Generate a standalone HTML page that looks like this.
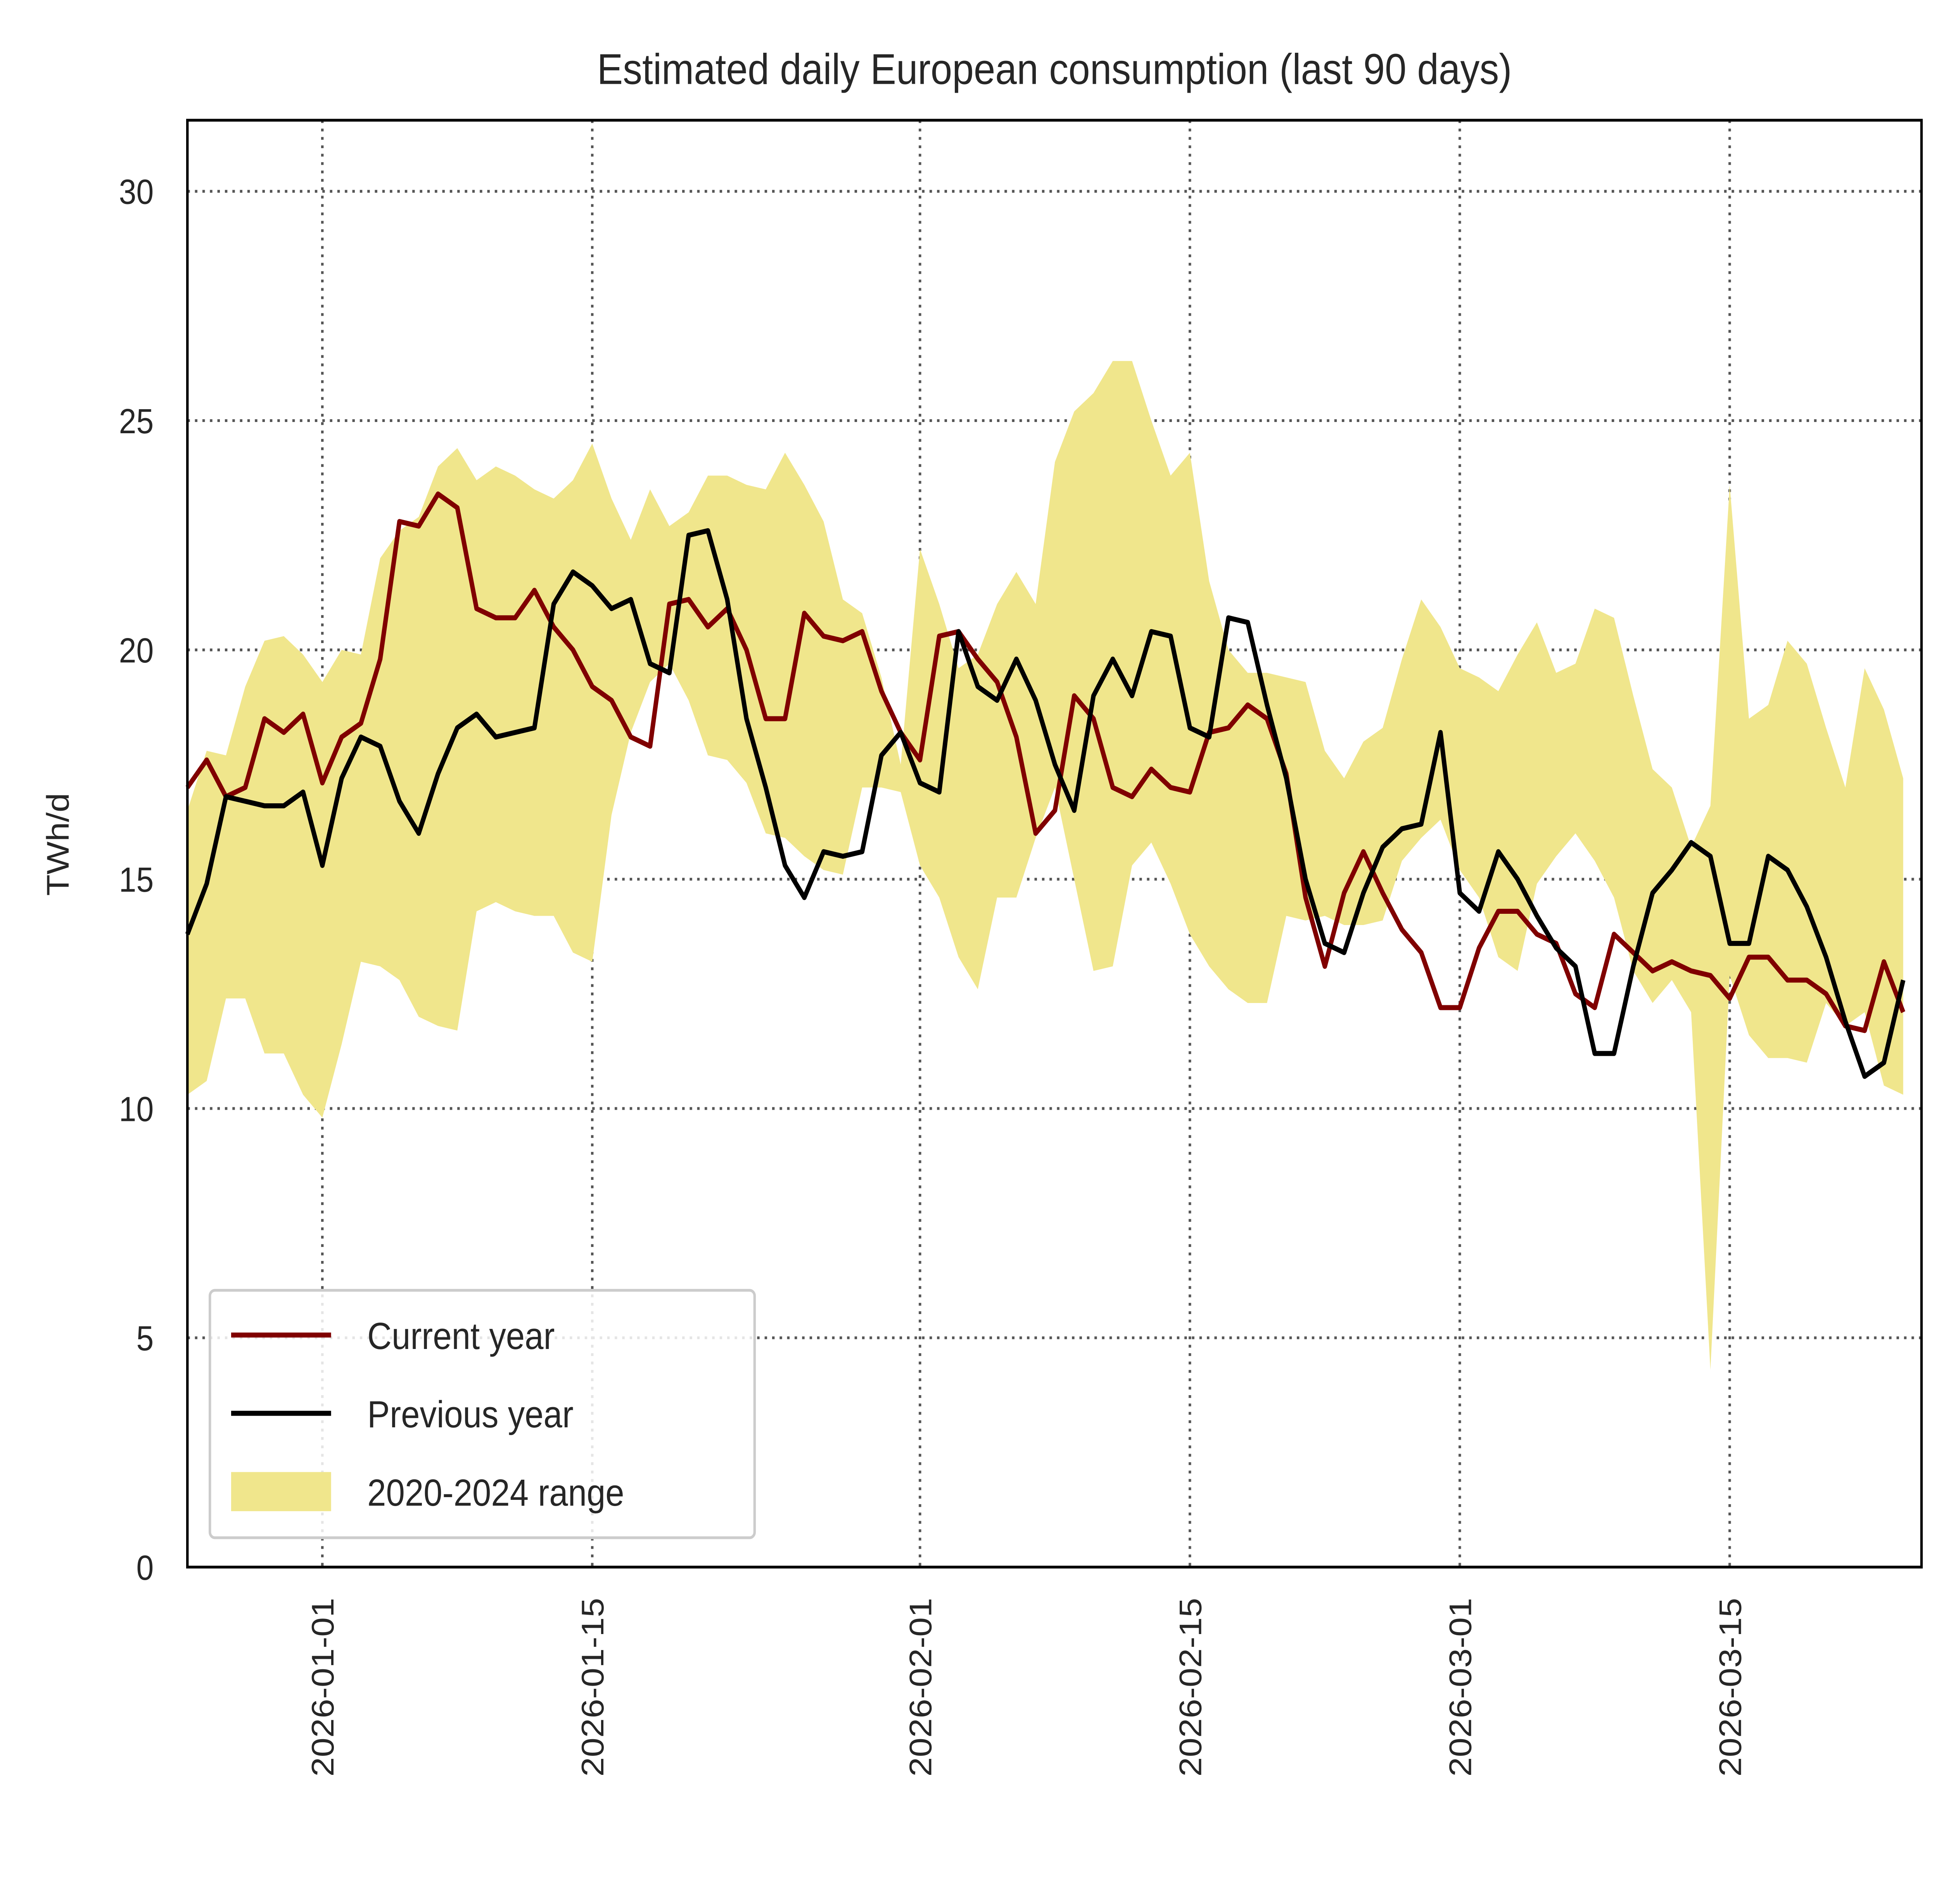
<!DOCTYPE html>
<html><head><meta charset="utf-8"><style>
html,body{margin:0;padding:0;background:#fff;width:100%;height:100%;overflow:hidden;}
svg{display:block;position:fixed;left:0;top:0;width:100vw;height:100vh;}
text{font-family:"Liberation Sans",Arial,sans-serif;fill:#262626;}
</style></head><body>
<svg id="chart" viewBox="0 0 1552 1362" preserveAspectRatio="none" xmlns="http://www.w3.org/2000/svg">
<rect width="1552" height="1362" fill="#fff"/>
<text x="844" y="60" font-size="31" text-anchor="middle">Estimated daily European consumption (last 90 days)</text>
<g id="grid"></g><g id="marks"></g><g id="axes"></g>
</svg>
<script>
const startDay = -7; // days relative to 2026-01-01
const currentYear = [17.0,17.6,16.8,17.0,18.5,18.2,18.6,17.1,18.1,18.4,19.8,22.8,22.7,23.4,23.1,20.9,20.7,20.7,21.3,20.5,20.0,19.2,18.9,18.1,17.9,21.0,21.1,20.5,20.9,20.0,18.5,18.5,20.8,20.3,20.2,20.4,19.1,18.2,17.6,20.3,20.4,19.8,19.3,18.1,16.0,16.5,19.0,18.5,17.0,16.8,17.4,17.0,16.9,18.2,18.3,18.8,18.5,17.3,14.6,13.1,14.7,15.6,14.7,13.9,13.4,12.2,12.2,13.5,14.3,14.3,13.8,13.6,12.5,12.2,13.8,13.4,13.0,13.2,13.0,12.9,12.4,13.3,13.3,12.8,12.8,12.5,11.8,11.7,13.2,12.1];
const previousYear = [13.8,14.9,16.8,16.7,16.6,16.6,16.9,15.3,17.2,18.1,17.9,16.7,16.0,17.3,18.3,18.6,18.1,18.2,18.3,21.0,21.7,21.4,20.9,21.1,19.7,19.5,22.5,22.6,21.1,18.5,17.0,15.3,14.6,15.6,15.5,15.6,17.7,18.2,17.1,16.9,20.4,19.2,18.9,19.8,18.9,17.5,16.5,19.0,19.8,19.0,20.4,20.3,18.3,18.1,20.7,20.6,18.8,17.2,15.0,13.6,13.4,14.7,15.7,16.1,16.2,18.2,14.7,14.3,15.6,15.0,14.2,13.5,13.1,11.2,11.2,13.1,14.7,15.2,15.8,15.5,13.6,13.6,15.5,15.2,14.4,13.3,11.9,10.7,11.0,12.8];
const rangeHigh = [16.5,17.8,17.7,19.2,20.2,20.3,19.9,19.3,20.0,19.9,22.0,22.6,22.9,24.0,24.4,23.7,24.0,23.8,23.5,23.3,23.7,24.5,23.3,22.4,23.5,22.7,23.0,23.8,23.8,23.6,23.5,24.3,23.6,22.8,21.1,20.8,19.4,17.5,22.2,21.0,19.6,19.9,21.0,21.7,21.0,24.1,25.2,25.6,26.3,26.3,25.0,23.8,24.3,21.5,20.0,19.5,19.5,19.4,19.3,17.8,17.2,18.0,18.3,19.8,21.1,20.5,19.6,19.4,19.1,19.9,20.6,19.5,19.7,20.9,20.7,19.0,17.4,17.0,15.7,16.6,23.6,18.5,18.8,20.2,19.7,18.3,17.0,19.6,18.7,17.2];
const rangeLow = [10.3,10.6,12.4,12.4,11.2,11.2,10.3,9.8,11.4,13.2,13.1,12.8,12.0,11.8,11.7,14.3,14.5,14.3,14.2,14.2,13.4,13.2,16.4,18.2,19.3,19.7,18.9,17.7,17.6,17.1,16.0,15.9,15.5,15.2,15.1,17.0,17.0,16.9,15.3,14.6,13.3,12.6,14.6,14.6,15.9,17.0,15.0,13.0,13.1,15.3,15.8,14.9,13.8,13.1,12.6,12.3,12.3,14.2,14.1,14.2,14.0,14.0,14.1,15.4,15.9,16.3,15.2,14.6,13.3,13.0,14.9,15.5,16.0,15.4,14.6,13.0,12.3,12.8,12.1,4.3,12.9,11.6,11.1,11.1,11.0,12.3,11.8,12.1,10.5,10.3];
const yTicks = [0,5,10,15,20,25,30];
const xTickDays = [0,14,31,45,59,73];
const xTickLabels = ["2026-01-01","2026-01-15","2026-02-01","2026-02-15","2026-03-01","2026-03-15"];

const L=150,R=1538,T=86,B=1121;
const xMin=-7,xMax=82.95,yMin=0,yMax=31.55;
const X=d=>L+(d-xMin)/(xMax-xMin)*(R-L);
const Y=v=>B-(v-yMin)/(yMax-yMin)*(B-T);
const NS="http://www.w3.org/2000/svg";
function mk(tag,attrs,parent){const e=document.createElementNS(NS,tag);for(const k in attrs)e.setAttribute(k,attrs[k]);parent.appendChild(e);return e;}
const grid=document.getElementById('grid'),marks=document.getElementById('marks'),axes=document.getElementById('axes');

yTicks.forEach(v=>{
  const y=Y(v);
  if(v>0){const g=mk('line',{x1:L,x2:R,y1:y,y2:y,stroke:'#555','stroke-width':2,'stroke-dasharray':'2,4'},grid);
  
  }
  const t=mk('text',{x:L-27,y:y+9,'font-size':25,'text-anchor':'end'},axes);t.textContent=v;
  
  
});
xTickDays.forEach((d,i)=>{
  const x=X(d);
  const g=mk('line',{x1:x,x2:x,y1:T,y2:B,stroke:'#555','stroke-width':2,'stroke-dasharray':'2,4'},grid);
  
  
  const t=mk('text',{x:0,y:0,'font-size':25,'text-anchor':'end',transform:`translate(${x+9},1143) rotate(-90)`},axes);t.textContent=xTickLabels[i];
  
  
});

const n=rangeHigh.length;
let d='';
for(let i=0;i<n;i++)d+=(i?'L':'M')+X(startDay+i)+','+Y(rangeHigh[i]);
for(let i=n-1;i>=0;i--)d+='L'+X(startDay+i)+','+Y(rangeLow[i]);
const band=mk('path',{d:d+'Z',fill:'#f0e68c',stroke:'none'},marks);



function line(arr,color,name){
  const p=arr.map((v,i)=>X(startDay+i)+','+Y(v)).join(' ');
  const e=mk('polyline',{points:p,fill:'none',stroke:color,'stroke-width':3.6,'stroke-linejoin':'round'},marks);
  
  
}
line(currentYear,'#800000','current-year-line');
line(previousYear,'#000000','previous-year-line');

const frame=mk('rect',{x:L,y:T,width:R-L,height:B-T,fill:'none',stroke:'#000','stroke-width':2},axes);



const yl=mk('text',{x:0,y:0,'font-size':25,'text-anchor':'middle',transform:'translate(55,604) rotate(-90)'},axes);yl.textContent='TWh/d';



const lg=mk('g',{},axes);


mk('rect',{x:168,y:923,width:436,height:177,rx:4,fill:'#fff','fill-opacity':0.85,stroke:'#ccc','stroke-width':2},lg);
const items=[['Current year','#800000','line'],['Previous year','#000','line'],['2020-2024 range','#f0e68c','patch']];
items.forEach((it,i)=>{
  const y=955+i*56;
  const g=mk('g',{},lg);
  
  
  if(it[2]==='line')mk('line',{x1:185,x2:265,y1:y,y2:y,stroke:it[1],'stroke-width':3.6},g);
  else mk('rect',{x:185,y:y-14,width:80,height:28,fill:it[1]},g);
  const t=mk('text',{x:294,y:y+10,'font-size':27},g);t.textContent=it[0];
});
</script>
</body></html>
